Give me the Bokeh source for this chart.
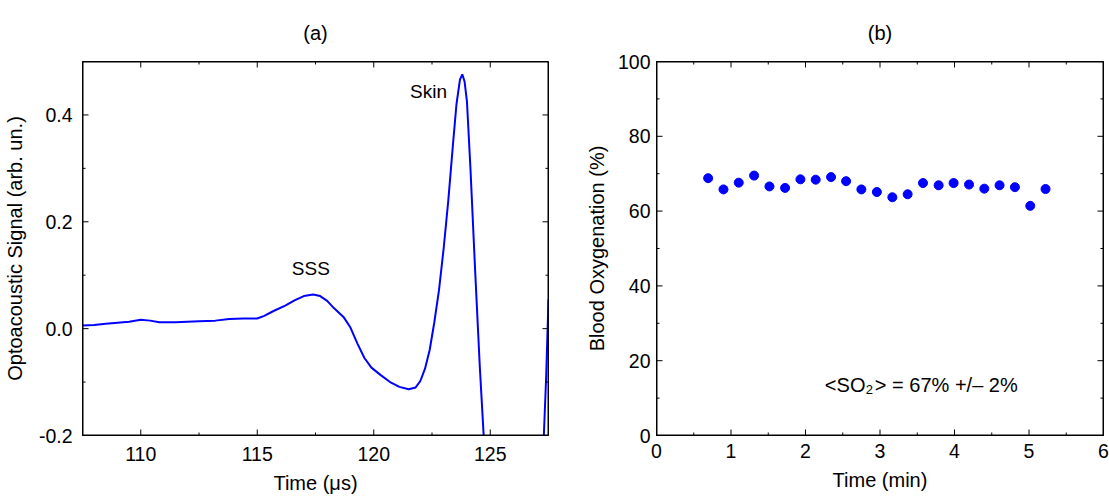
import math
from bokeh.plotting import figure
from bokeh.layouts import row
from bokeh.models import Range1d, FixedTicker, Label, BoxAnnotation
from bokeh.embed import file_html
from bokeh.resources import INLINE

# ---------------- data ----------------
time_us = [107.5, 108.0, 108.5, 109.0, 109.5, 110.0, 110.4, 110.8, 111.5, 112.0,
           112.5, 113.2, 113.8, 114.4, 115.0, 115.3, 115.7, 116.2, 116.6, 117.0,
           117.4, 117.7, 118.0, 118.3, 118.7, 119.0, 119.3, 119.6, 119.9, 120.3,
           120.7, 121.1, 121.5, 121.8, 122.0, 122.2, 122.4, 122.6, 122.8, 123.0,
           123.2, 123.4, 123.55, 123.7, 123.8, 123.9, 124.0, 124.15, 124.35, 124.55,
           124.75, 125.0, 125.8, 126.5, 127.1, 127.3, 127.4, 127.5]
signal = [0.006, 0.007, 0.009, 0.011, 0.013, 0.0165, 0.015, 0.012, 0.012, 0.013,
          0.014, 0.015, 0.018, 0.019, 0.019, 0.024, 0.033, 0.043, 0.053, 0.061,
          0.064, 0.061, 0.052, 0.038, 0.022, 0.002, -0.028, -0.055, -0.073, -0.087,
          -0.100, -0.109, -0.1135, -0.110, -0.098, -0.075, -0.040, 0.012, 0.072, 0.150,
          0.240, 0.345, 0.420, 0.466, 0.476, 0.462, 0.425, 0.300, 0.110, -0.070,
          -0.225, -0.45, -0.72, -0.65, -0.40, -0.20, -0.09, 0.055]

time_min = [0.693, 0.899, 1.104, 1.310, 1.516, 1.726, 1.932, 2.137, 2.343, 2.545,
            2.750, 2.958, 3.166, 3.371, 3.577, 3.787, 3.988, 4.195, 4.400, 4.605,
            4.811, 5.017, 5.222]
so2 = [68.8, 65.8, 67.6, 69.5, 66.6, 66.2, 68.5, 68.4, 69.1, 68.0,
       65.8, 65.1, 63.7, 64.5, 67.5, 66.9, 67.5, 67.1, 66.0, 66.9,
       66.4, 61.4, 65.9]

a_xrange = [107.5, 127.5]
a_yrange = [-0.2, 0.5]
a_xticks = [110, 115, 120, 125]
a_xminor = [112.5, 117.5, 122.5]
a_yticks = [-0.2, 0.0, 0.2, 0.4]
a_yminor = [-0.1, 0.1, 0.3]
a_ylabels = {-0.2: "-0.2", 0.0: "0.0", 0.2: "0.2", 0.4: "0.4"}
b_xrange = [0, 6]
b_yrange = [0, 100]
b_xticks = [0, 1, 2, 3, 4, 5, 6]
b_xminor = [0.5, 1.5, 2.5, 3.5, 4.5, 5.5]
b_yticks = [0, 20, 40, 60, 80, 100]
b_yminor = [10, 30, 50, 70, 90]

FONT = "Liberation Sans"
BLUE = "#0000ff"


def style_axis(ax):
    ax.axis_line_color = "black"
    ax.axis_line_width = 1
    ax.major_tick_in = 0
    ax.major_tick_out = 0
    ax.minor_tick_in = 0
    ax.minor_tick_out = 0
    ax.major_label_text_font = FONT
    ax.major_label_text_color = "black"
    ax.major_label_text_font_size = "19.5px"
    ax.axis_label_text_font = FONT
    ax.axis_label_text_font_style = "normal"
    ax.axis_label_text_font_size = "20px"
    ax.axis_label_text_color = "black"


def make_fig(width, height, xr, yr, borders, title):
    p = figure(width=width, height=height, x_range=Range1d(*xr), y_range=Range1d(*yr),
               output_backend="svg", toolbar_location=None,
               min_border_left=borders[0], min_border_right=borders[1],
               min_border_top=borders[2], min_border_bottom=borders[3])
    p.xgrid.visible = False
    p.ygrid.visible = False
    p.outline_line_color = "black"
    p.outline_line_width = 1
    p.background_fill_color = None
    p.border_fill_color = None
    p.title.text = title
    p.title.align = "center"
    p.title.text_font = FONT
    p.title.text_font_size = "20px"
    p.title.text_font_style = "normal"
    p.title.text_color = "black"
    p.title.standoff = 36
    return p


def frame_and_ticks(p, xr, yr, xt, xm, yt, ym):
    # frame border (half of the 2px stroke lies inside the frame)
    p.add_layout(BoxAnnotation(fill_color=None, line_color="black", line_width=2,
                               line_alpha=1.0))
    # inward ticks on all four sides: dash markers centred on the frame edge
    for yedge in yr:
        p.scatter(xt, [yedge] * len(xt), marker="dash", size=12, angle=math.pi / 2,
                  line_color="black", line_width=1)
        p.scatter(xm, [yedge] * len(xm), marker="dash", size=6, angle=math.pi / 2,
                  line_color="black", line_width=1)
    for xedge in xr:
        p.scatter([xedge] * len(yt), yt, marker="dash", size=12,
                  line_color="black", line_width=1)
        p.scatter([xedge] * len(ym), ym, marker="dash", size=6,
                  line_color="black", line_width=1)


def text_label(x, y, text, size="20px", align="center", baseline="middle", xo=0, yo=0):
    return Label(x=x, y=y, x_offset=xo, y_offset=yo, text=text, text_align=align,
                 text_baseline=baseline, text_font=FONT, text_font_size=size,
                 text_color="black")


# ---------------- panel (a) ----------------
pa = make_fig(576, 496, a_xrange, a_yrange, (82, 28, 61, 56), "(a)")
pa.line(time_us, signal, line_color=BLUE, line_width=2)
frame_and_ticks(pa, a_xrange, a_yrange, a_xticks, a_xminor, a_yticks, a_yminor)

pa.xaxis.ticker = FixedTicker(ticks=a_xticks)
pa.yaxis.ticker = FixedTicker(ticks=a_yticks)
pa.yaxis.major_label_overrides = a_ylabels
pa.xaxis.axis_label = "Time (μs)"
pa.yaxis.axis_label = "Optoacoustic Signal (arb. un.)"
for ax in pa.xaxis + pa.yaxis:
    style_axis(ax)
pa.xaxis.major_label_standoff = 11
pa.xaxis.axis_label_standoff = 8
pa.yaxis.major_label_standoff = 10
pa.yaxis.axis_label_standoff = 10

pa.add_layout(text_label(117.3, 0.112, "SSS", size="19px"))
pa.add_layout(text_label(122.35, 0.443, "Skin", size="19px"))

# ---------------- panel (b) ----------------
pb = make_fig(533, 496, b_xrange, b_yrange, (80, 6, 61, 56), "(b)")
pb.scatter(time_min, so2, size=9, fill_color=BLUE, line_color=BLUE)
frame_and_ticks(pb, b_xrange, b_yrange, b_xticks, b_xminor, b_yticks, b_yminor)

pb.xaxis.ticker = FixedTicker(ticks=b_xticks)
pb.yaxis.ticker = FixedTicker(ticks=b_yticks)
pb.xaxis.axis_label = "Time (min)"
pb.yaxis.axis_label = "Blood Oxygenation (%)"
for ax in pb.xaxis + pb.yaxis:
    style_axis(ax)
pb.xaxis.major_label_standoff = 8
pb.xaxis.axis_label_standoff = 8
pb.yaxis.major_label_standoff = 6
pb.yaxis.axis_label_standoff = 7

# annotation with subscript
ann_x, ann_y = 2.26, 13.4
pb.add_layout(text_label(ann_x, ann_y, "<SO", align="left", baseline="alphabetic"))
pb.add_layout(text_label(ann_x, ann_y, "2", size="13px", align="left", baseline="alphabetic",
                         xo=41, yo=-4))
pb.add_layout(text_label(ann_x, ann_y, "> = 67% +/– 2%", align="left", baseline="alphabetic",
                         xo=50))

layout = row(pa, pb)
open("out.html", "w").write(file_html(layout, INLINE))
